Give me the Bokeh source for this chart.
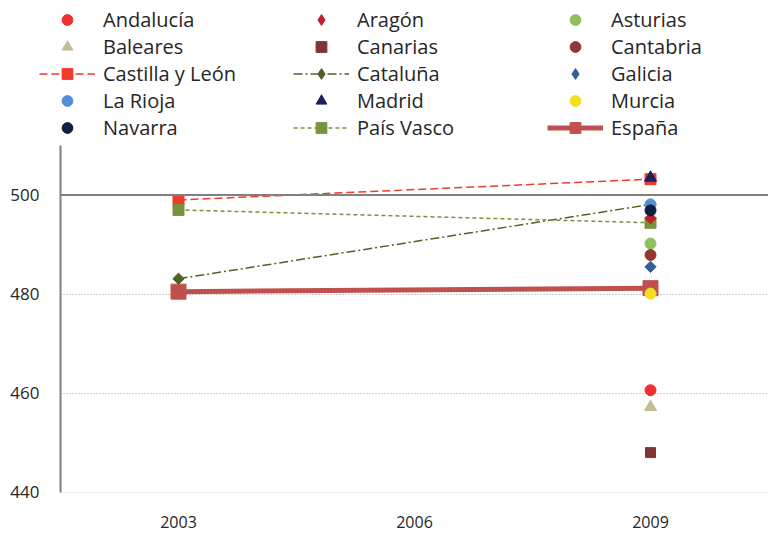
import math
from bokeh.plotting import figure
from bokeh.models import Legend, LegendItem, Span, Range1d
from bokeh.layouts import column, row
from bokeh.embed import file_html
from bokeh.resources import INLINE

years = ["2003", "2006", "2009"]

# Regions with 2003 and 2009 values (lines)
castilla_years = ["2003", "2009"]
castilla_vals = [499.0, 503.2]
cataluna_years = ["2003", "2009"]
cataluna_vals = [483.1, 498.1]
pais_vasco_years = ["2003", "2009"]
pais_vasco_vals = [497.0, 494.4]
espana_years = ["2003", "2009"]
espana_vals = [480.5, 481.2]

# Regions with only 2009 values
andalucia_2009 = 460.6
aragon_2009 = 495.3
asturias_2009 = 490.2
baleares_2009 = 457.2
canarias_2009 = 448.0
cantabria_2009 = 487.9
galicia_2009 = 485.5
la_rioja_2009 = 498.1
madrid_2009 = 503.5
murcia_2009 = 480.1
navarra_2009 = 496.9

reference_value = 500
y_ticks = [440, 460, 480, 500]

FONT = "Open Sans"
TEXT = "#262626"

# ---- main chart ----
p = figure(x_range=years, y_range=(439.95, 510), width=768, height=390,
           output_backend="svg", toolbar_location=None,
           min_border_left=60, min_border_right=0, min_border_top=0,
           min_border_bottom=43)
p.outline_line_color = None
p.xgrid.grid_line_color = None
p.ygrid.grid_line_color = "#9a9a9a"
p.ygrid.grid_line_dash = "1 2"
p.ygrid.grid_line_width = 1
p.yaxis.ticker = y_ticks
p.yaxis.axis_line_color = "#808080"
p.yaxis.axis_line_width = 2
p.yaxis.major_tick_line_color = None
p.yaxis.major_tick_out = 0
p.yaxis.minor_tick_line_color = None
p.yaxis.minor_tick_out = 0
p.yaxis.major_label_text_font = FONT
p.yaxis.major_label_text_font_size = "17px"
p.yaxis.major_label_text_color = TEXT
p.yaxis.major_label_standoff = 21
p.xaxis.axis_line_color = None
p.xaxis.major_tick_line_color = None
p.xaxis.major_tick_out = 0
p.xaxis.minor_tick_line_color = None
p.xaxis.minor_tick_out = 0
p.xaxis.major_label_text_font = FONT
p.xaxis.major_label_text_font_size = "16px"
p.xaxis.major_label_text_color = TEXT
p.xaxis.major_label_standoff = 23

p.add_layout(Span(location=reference_value, dimension="width",
                  line_color="#808080", line_width=2))

# ---- legend-only figure (draws no data marks) ----
lf = figure(width=768, height=145, output_backend="svg", toolbar_location=None,
            x_range=Range1d(0, 1), y_range=Range1d(0, 1),
            min_border=0, min_border_left=0, min_border_right=0,
            min_border_top=0, min_border_bottom=0)
lf.axis.visible = False
lf.grid.visible = False
lf.outline_line_color = None

# (marker in chart, angle in chart, marker in legend)
DIAMOND = ("square", math.pi / 4, "diamond")
SQUARE = ("square", 0, "square")
CIRCLE = ("circle", 0, "circle")
TRIANGLE = ("triangle", 0, "triangle")

specs = [
    # name, xs, ys, marker, color, size, line style
    ("España", espana_years, espana_vals, SQUARE, "#C0504D", 15,
     dict(line_width=5)),
    ("Castilla y León", castilla_years, castilla_vals, SQUARE, "#F03A2A", 11,
     dict(line_width=1.5, line_dash="8 4")),
    ("Cataluña", cataluna_years, cataluna_vals, DIAMOND, "#4F6228", 8,
     dict(line_width=1.5, line_dash="9 3 2 3")),
    ("País Vasco", pais_vasco_years, pais_vasco_vals, SQUARE, "#77933C", 11,
     dict(line_width=1.5, line_dash="4 3")),
    ("Andalucía", ["2009"], [andalucia_2009], CIRCLE, "#F03030", 11, None),
    ("Aragón", ["2009"], [aragon_2009], DIAMOND, "#C0202A", 8, None),
    ("Asturias", ["2009"], [asturias_2009], CIRCLE, "#8FC060", 11, None),
    ("Baleares", ["2009"], [baleares_2009], TRIANGLE, "#C4BC96", 12, None),
    ("Canarias", ["2009"], [canarias_2009], SQUARE, "#7F3535", 10, None),
    ("Cantabria", ["2009"], [cantabria_2009], CIRCLE, "#943634", 11, None),
    ("Galicia", ["2009"], [galicia_2009], DIAMOND, "#376092", 8, None),
    ("La Rioja", ["2009"], [la_rioja_2009], CIRCLE, "#558ED5", 11, None),
    ("Madrid", ["2009"], [madrid_2009], TRIANGLE, "#1F1F5F", 12, None),
    ("Murcia", ["2009"], [murcia_2009], CIRCLE, "#F0E020", 11, None),
    ("Navarra", ["2009"], [navarra_2009], CIRCLE, "#0F1F3F", 11, None),
]


def series(fig, xs, ys, marker, angle, color, size, line):
    rs = []
    if line is not None:
        rs.append(fig.line(xs, ys, line_color=color, **line))
    rs.append(fig.scatter(xs, ys, marker=marker, angle=angle, size=size,
                          fill_color=color, line_color=color))
    return rs


legend_renderers = {}
for name, xs, ys, marker, color, size, line in specs:
    series(p, xs, ys, marker[0], marker[1], color, size, line)
    # invisible (NaN) placeholder copy, used only to draw the legend swatch
    legend_renderers[name] = series(lf, [math.nan], [math.nan],
                                    marker[2], 0, color, size, line)

legend_order = ["Andalucía", "Aragón", "Asturias",
                "Baleares", "Canarias", "Cantabria",
                "Castilla y León", "Cataluña", "Galicia",
                "La Rioja", "Madrid", "Murcia",
                "Navarra", "País Vasco", "España"]

legend = Legend(items=[LegendItem(label=n, renderers=legend_renderers[n]) for n in legend_order],
                location=(39, 4), orientation="horizontal", ncols=3,
                glyph_width=56, glyph_height=27, label_standoff=8,
                spacing=0, label_width=190, padding=0, margin=0,
                border_line_color=None, background_fill_alpha=0,
                label_text_font=FONT, label_text_font_size="20px",
                label_text_color=TEXT, label_height=20)
lf.add_layout(legend, "center")

layout = column(row(lf), p, spacing=0)
open("out.html", "w").write(file_html(layout, INLINE))
